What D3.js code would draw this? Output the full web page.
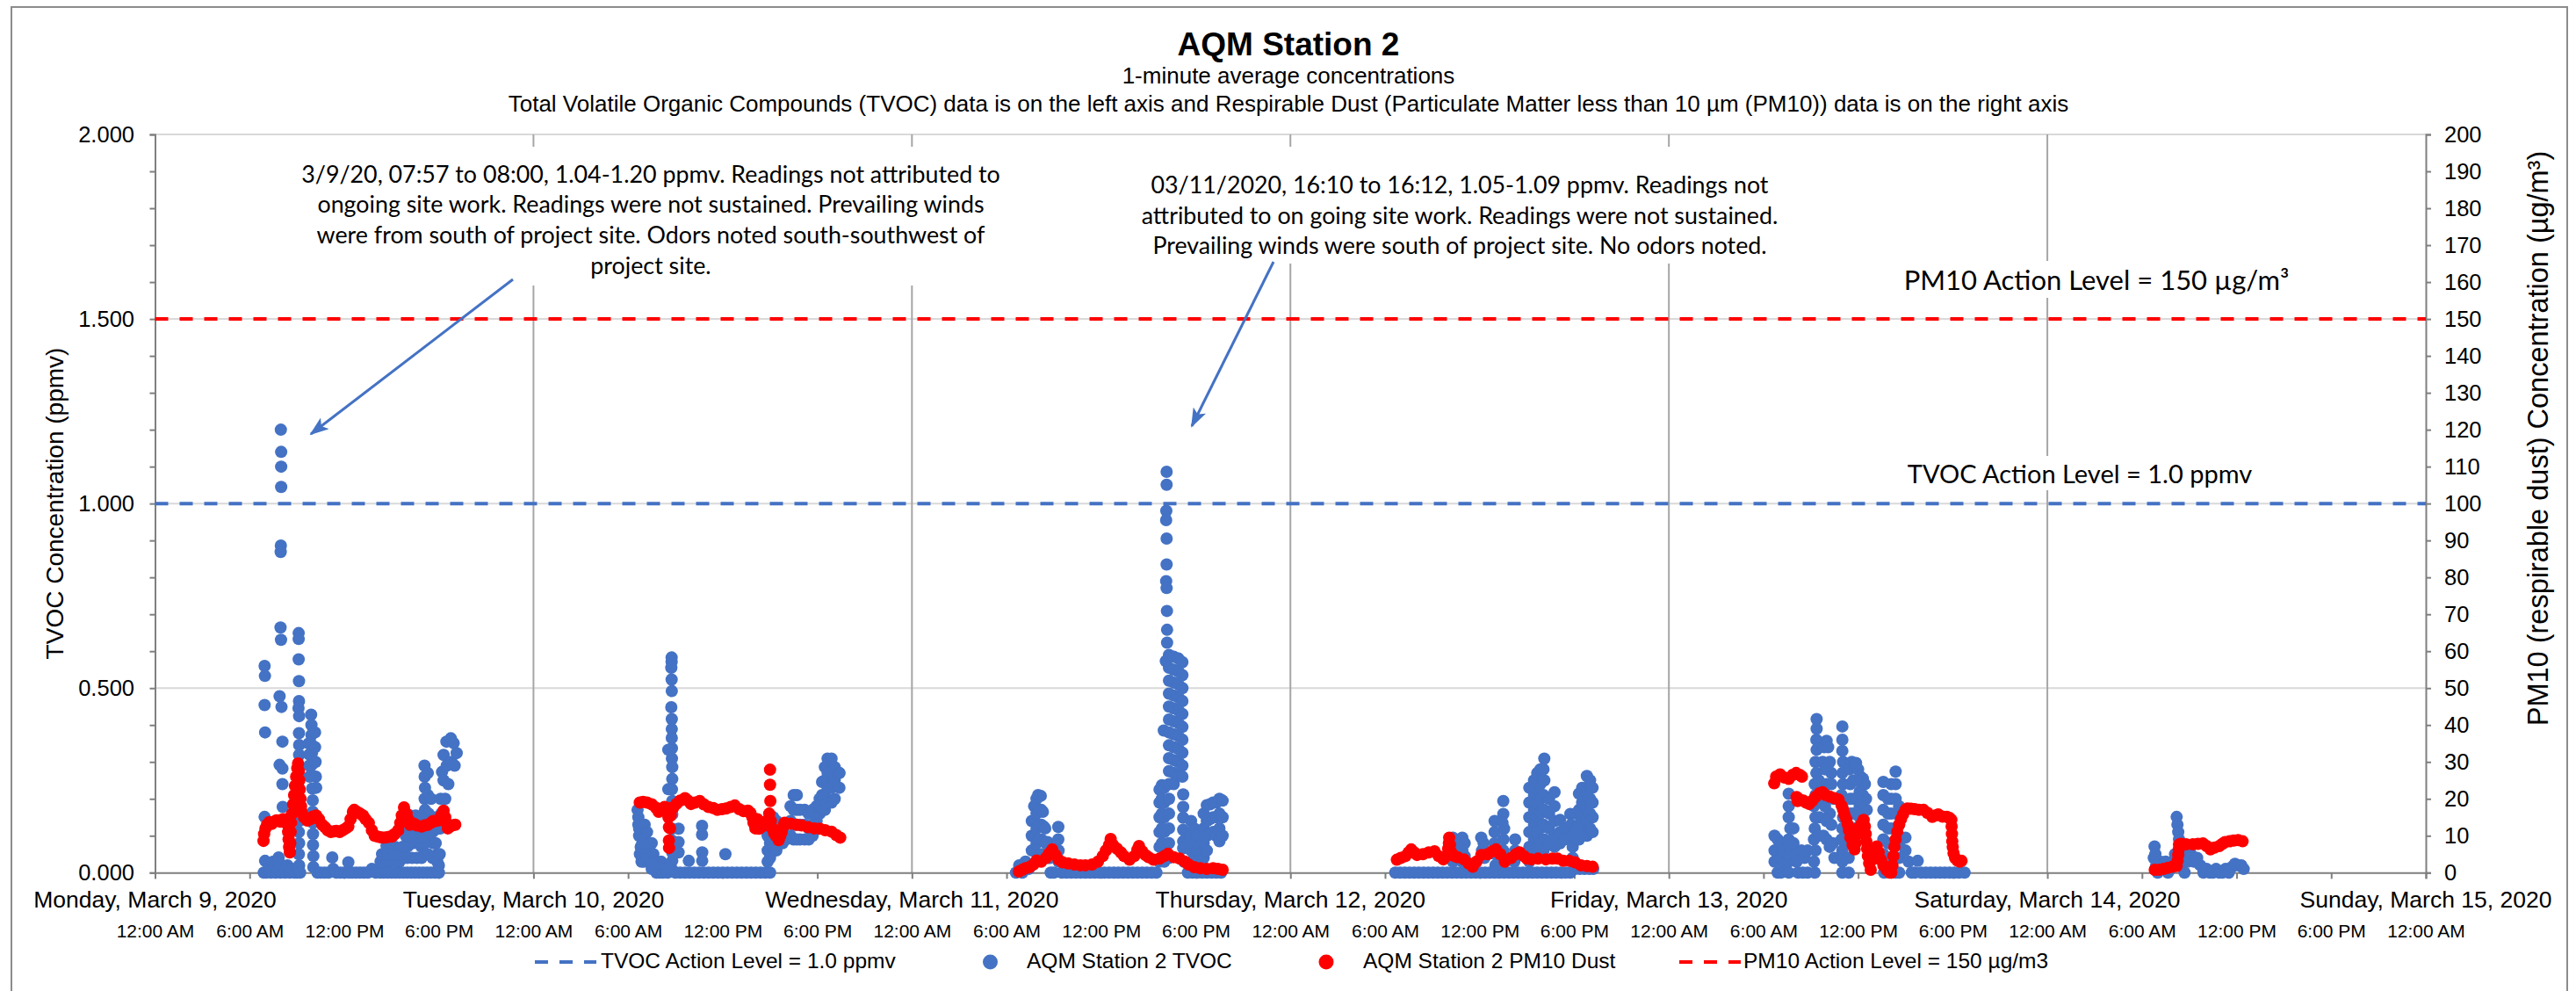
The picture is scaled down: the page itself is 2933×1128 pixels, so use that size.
<!DOCTYPE html>
<html>
<head>
<meta charset="utf-8">
<script src="https://cdn.jsdelivr.net/npm/d3@7"></script>
<style>
body { margin: 0; background: #fff; }
text { font-family: "Liberation Sans", Arial, sans-serif; fill: #000; }
.note { font-family: Lato, "Open Sans", sans-serif; }
</style>
</head>
<body>
<svg id="chart" width="2933" height="1128"></svg>
<script>
// ---- data (hour of day, value) ----
var startDay = new Date(2020, 2, 9);
var endDay = new Date(2020, 2, 15);

var tvocLevel = 1.0;   // ppmv, left axis
var pm10Level = 150;   // ug/m3, right axis

var titleLines = ["AQM Station 2", "1-minute average concentrations",
  "Total Volatile Organic Compounds (TVOC) data is on the left axis and Respirable Dust (Particulate Matter less than 10 \u00b5m (PM10)) data is on the right axis"];

var legendLabels = ["TVOC Action Level = 1.0 ppmv", "AQM Station 2 TVOC", "AQM Station 2 PM10 Dust", "PM10 Action Level = 150 \u00b5g/m3"];

var note1 = ["3/9/20, 07:57 to 08:00, 1.04-1.20 ppmv. Readings not attributed to",
  "ongoing site work. Readings were not sustained. Prevailing winds",
  "were from south of project site. Odors noted south-southwest of",
  "project site."];
var note2 = ["03/11/2020, 16:10 to 16:12, 1.05-1.09 ppmv. Readings not",
  "attributed to on going site work. Readings were not sustained.",
  "Prevailing winds were south of project site. No odors noted."];

// TVOC (ppmv)
var tvocMar09 = [[6.95,.56],[6.97,.533],[6.95,.454],[6.98,.38],[6.95,.151],[6.98,.032],[6.9,0],[7.05,0],[7.2,.01],[7.35,0],[7.5,.03],[7.65,0],
  [7.98,1.2],[8.0,1.14],[8.0,1.1],[8.0,1.045],[7.98,.886],[7.97,.869],[7.96,.664],[7.99,.631],[7.9,.478],[8.02,.449],[8.08,.355],[7.9,.292],[8.08,.282],[8.08,.24],[8.1,.178],[8.05,.14],[7.84,.041],[7.84,.028],[7.95,0],[8.1,.01],[8.25,0],[8.4,.02],[8.55,0],[8.7,.01],[8.85,0],[9.0,0],
  [9.11,.649],[9.11,.633],[9.11,.578],[9.13,.519],[9.13,.465],[9.1,.446],[9.14,.424],[9.13,.378],[9.14,.346],[9.14,.319],[9.12,.29],[9.14,.26],[9.12,.23],[9.14,.2],[9.12,.17],[9.14,.14],[9.12,.11],[9.14,.08],[9.12,.05],[9.14,.02],[9.2,0],
  [9.9,.428],[9.92,.4],[9.92,.373],[9.88,.35],[9.95,.324],[9.92,.291],[9.95,.264],[9.97,.228],[10.0,.196],[10.0,.165],[10.02,.135],[10.02,.105],[10.02,.075],[10.04,.045],[10.04,.015],[9.75,.35],[9.78,.32],[9.78,.29],[9.8,.26],[10.15,.38],[10.15,.34],[10.18,.3],[10.2,.26],[10.22,.23],[10.3,0],
  [10.5,0],[10.75,0],[11.0,0],[11.24,.041],[11.3,.01],[11.5,0],[11.75,0],[12.0,0],[12.26,.028],[12.3,0],[12.5,0],[12.75,0],[13.0,0],[13.25,0],[13.5,0],[13.75,.01],[14.0,0],
  [14.3,0],[14.3,.03],[14.5,.02],[14.68,.073],[14.7,.04],[14.9,.06],[14.9,.03],[15.1,.07],[15.1,.04],[15.23,.07],[15.3,.03],[15.5,.06],[15.5,.03],[15.7,.07],[15.79,.04],[15.9,.1],[16.0,.13],[16.0,.07],[16.16,.155],[16.2,.1],[16.35,.12],[16.35,.08],[16.53,.155],[16.55,.11],[16.7,.14],[16.7,.09],[16.81,.12],[16.9,.07],
  [17.09,.29],[17.1,.26],[17.12,.23],[17.1,.2],[17.12,.17],[17.14,.14],[17.1,.11],[17.12,.08],[17.3,.27],[17.3,.21],[17.35,.16],[17.37,.1],[17.5,.2],[17.5,.13],[17.65,.15],[17.65,.08],[17.8,.12],[17.92,.119],[17.92,.05],
  [14.5,0],[14.75,0],[15,0],[15.25,0],[15.5,0],[15.75,0],[16,0],[16.25,0],[16.5,0],[16.75,0],[17,0],[17.25,0],[17.5,0],[17.75,0],[18,0],
  [16.0,.04],[16.3,.04],[16.6,.04],[16.9,.04],[17.3,.05],[17.6,.04],
  [14.4,.05],[14.6,.05],[14.8,.05],[15.0,.05],[15.2,.05],[15.4,.05],[15.6,.05],[15.8,.07],[16.1,.1],[16.4,.15],[16.6,.13],[16.8,.15],[17.0,.1],[17.2,.12],[17.4,.13],[17.6,.11],[17.8,.08],[17.9,.03],[18.0,.02],
  [18.11,.2],[18.15,.16],[18.2,.273],[18.3,.319],[18.3,.25],[18.4,.2],[18.48,.355],[18.5,.29],[18.6,.24],[18.76,.364],[18.8,.3],[18.94,.351],[19.0,.29],[19.13,.324],[18.11,.12],[18.05,.05]];

var tvocMar10 = [[6.6,.17],[6.65,.13],[6.7,.1],[6.8,.07],[6.9,.08],[7.05,.1],[7.2,.07],[7.35,.06],[7.5,.08],[7.6,.05],[7.72,.03],[7.8,0],[7.9,.02],[8.0,0],[8.09,.03],[8.2,0],[8.35,.01],[8.5,0],
  [6.65,.15],[6.7,.12],[6.75,.05],[6.85,.03],[6.95,.05],[7.0,.03],[7.1,.05],[7.25,.04],[7.4,.03],[7.5,.01],[7.6,.02],[7.05,.13],[7.2,.11],
  [8.76,.583],[8.76,.571],[8.74,.555],[8.76,.523],[8.77,.492],[8.74,.448],[8.77,.416],[8.77,.389],[8.77,.365],[8.78,.337],[8.78,.309],[8.8,.286],[8.8,.254],[8.78,.226],[8.8,.194],[8.8,.158],[8.78,.119],[8.78,.087],[8.8,.055],[8.8,.032],[8.8,.008],[8.55,.333],[8.55,.226],
  [9.2,.119],[9.2,.083],[9.2,.055],[9.85,.032],[10.69,.127],[10.69,.103],[10.7,.055],[10.7,.032],[12.17,.05],
  [9.0,0],[9.3,0],[9.6,0],[9.9,0],[10.2,0],[10.5,0],[10.8,0],[11.1,0],[11.4,0],[11.7,0],[12.0,0],[12.3,0],[12.6,0],[12.9,0],[13.2,0],[13.5,0],[13.8,0],[14.1,0],[14.4,0],[14.7,0],[15.0,0],
  [14.85,.14],[14.85,.1],[14.85,.06],[14.85,.03],[15.0,.12],[15.0,.08],[15.0,.04],[15.2,.15],[15.2,.11],[15.2,.07],[15.4,.14],[15.4,.1],[15.4,.06],[15.6,.13],[15.6,.09],[15.8,.12],[15.8,.08],[16.0,.13],[16.0,.09],
  [16.3,.18],[16.3,.14],[16.3,.1],[16.5,.21],[16.5,.17],[16.5,.13],[16.5,.09],[16.7,.21],[16.7,.17],[16.7,.13],[16.7,.09],[16.9,.17],[16.9,.13],[16.9,.09],[17.2,.17],[17.2,.13],[17.2,.09],[17.45,.16],[17.45,.12],[17.45,.09],[17.7,.17],[17.7,.13],[17.7,.1],
  [17.95,.18],[17.95,.14],[18.15,.2],[18.15,.16],[18.3,.246],[18.3,.21],[18.3,.17],[18.48,.286],[18.48,.25],[18.48,.21],[18.48,.17],[18.65,.309],[18.65,.27],[18.65,.23],[18.65,.19],[18.9,.309],[18.9,.27],[18.9,.23],[18.9,.19],[19.1,.286],[19.1,.25],[19.1,.2],[19.41,.27],[19.4,.23]];

var tvocMar11 = [[6.6,0],[6.8,.02],[7.0,0],[7.2,.03],[7.4,.01],
  [7.6,.14],[7.6,.1],[7.6,.06],[7.6,.02],[7.75,.18],[7.75,.14],[7.75,.1],[7.75,.06],[7.9,.2],[7.9,.16],[7.9,.12],[7.9,.08],[8.0,.21],[8.05,.17],[8.05,.13],[8.05,.09],[8.17,.208],[8.2,.17],[8.2,.13],[8.2,.09],[8.2,.05],[8.3,.165],[8.35,.125],[8.35,.085],[8.45,.12],[8.5,.08],[8.5,.04],[8.6,.083],[8.65,.04],[8.75,.04],[8.8,0],
  [9.28,.124],[9.28,.09],[9.3,.06],[9.3,.03],
  [9.0,0],[9.5,0],[9.8,0],[10.1,0],[10.4,0],[10.7,0],[11.0,0],[11.3,0],[11.6,0],[11.9,0],[12.2,0],[12.5,0],[12.8,0],[13.1,0],[13.4,0],[13.7,0],[14.0,0],[14.3,0],[14.6,0],[14.9,0],[15.2,0],[15.5,0],
  [15.7,.225],[15.7,.19],[15.7,.15],[15.7,.11],[15.7,.07],[15.7,.03],[15.85,.237],[15.85,.2],[15.85,.16],[15.85,.12],[15.85,.08],[15.85,.04],[16.0,.23],[16.0,.19],[16.0,.15],[16.0,.11],[16.0,.07],[16.0,.03],[15.97,.385],
  [16.15,1.086],[16.15,1.051],[16.13,.98],[16.12,.955],[16.15,.905],[16.15,.835],[16.12,.79],[16.15,.771],[16.17,.709],[16.18,.658],[16.18,.623],[16.1,.573],
  [16.3,.59],[16.3,.555],[16.3,.52],[16.3,.485],[16.3,.45],[16.3,.415],[16.3,.38],[16.3,.345],[16.3,.31],[16.3,.275],[16.3,.24],
  [16.6,.585],[16.6,.55],[16.6,.515],[16.6,.48],[16.6,.445],[16.6,.41],[16.6,.375],[16.6,.34],[16.6,.305],[16.6,.27],[16.6,.24],
  [16.9,.58],[16.9,.545],[16.9,.51],[16.9,.475],[16.9,.44],[16.9,.405],[16.9,.37],[16.9,.335],[16.9,.3],[16.9,.265],
  [17.15,.57],[17.15,.535],[17.15,.5],[17.15,.465],[17.15,.43],[17.15,.395],[17.15,.36],[17.15,.325],[17.15,.29],[17.15,.26],
  [17.2,.212],[17.2,.178],[17.2,.149],[17.2,.116],[17.2,.085],[17.2,.066],[17.25,.03],[16.3,.2],[16.3,.16],[16.3,.12],[16.3,.08],[16.3,.04],
  [17.7,.14],[17.7,.1],[17.7,.06],[17.7,.02],[17.9,.12],[17.9,.08],[17.9,.04],[18.1,.1],[18.1,.06],[18.1,.02],[18.25,.05],
  [18.5,.16],[18.5,.12],[18.5,.08],[18.5,.04],[18.7,.183],[18.7,.14],[18.7,.1],[18.7,.06],[18.9,.185],[18.9,.145],[18.9,.105],[19.1,.19],[19.1,.15],[19.1,.11],[19.3,.19],[19.3,.15],[19.3,.1],[19.5,.2],[19.5,.16],[19.5,.12],[19.5,.085],[19.7,.195],[19.7,.15],[19.7,.1],
  [17.5,0],[17.8,0],[18.1,0],[18.4,0],[18.7,0],[19.0,0],[19.3,0],[19.6,0]];

var tvocMar12 = [[6.65,0],[6.95,0],[7.25,0],[7.55,0],[7.85,0],[8.15,0],[8.45,0],[8.75,0],[9.05,0],[9.35,0],[9.65,0],[9.95,0],[10.25,0],[10.55,0],[10.85,0],[11.15,0],[11.45,0],[11.75,0],[12.05,0],[12.35,0],[12.65,0],[12.95,0],[13.25,0],[13.55,0],[13.85,0],[14.15,0],[14.45,0],[14.75,0],[15.05,0],[15.35,0],[15.65,0],[15.95,0],[16.25,0],[16.55,0],[16.85,0],[17.15,0],[17.45,0],[17.75,0],[18.05,.01],[18.35,.01],[18.65,.01],[18.95,.01],[19.2,.01],
  [10.2,.06],[10.3,.095],[10.3,.06],[10.3,.03],[10.5,.07],[10.5,.035],[10.75,.06],[10.9,.095],[10.9,.06],[10.9,.03],[11.05,.08],[11.05,.045],
  [12.1,.095],[12.15,.06],[12.25,.08],[12.3,.04],
  [12.95,.14],[12.95,.11],[12.95,.08],[13.0,.05],[13.0,.02],
  [13.5,.194],[13.5,.159],[13.45,.135],[13.55,.119],[13.5,.09],[13.5,.06],[13.5,.03],
  [14.25,.09],[14.25,.06],[14.2,.03],
  [15.15,.23],[15.15,.19],[15.15,.15],[15.15,.11],[15.15,.07],[15.15,.03],
  [15.45,.25],[15.45,.21],[15.45,.17],[15.45,.13],[15.45,.09],[15.45,.05],
  [15.65,.27],[15.65,.23],[15.65,.19],[15.65,.15],[15.65,.11],[15.65,.07],
  [15.85,.28],[15.85,.24],[15.85,.2],[15.85,.16],[15.85,.12],[15.85,.08],
  [16.1,.309],[16.05,.28],[16.1,.25],[16.05,.21],[16.1,.17],[16.05,.13],[16.1,.09],[16.05,.06],
  [16.4,.2],[16.4,.16],[16.4,.12],[16.4,.08],
  [16.75,.218],[16.75,.18],[16.75,.14],[16.75,.1],[16.75,.07],
  [17.1,.143],[17.1,.11],[17.1,.08],[17.4,.12],[17.4,.09],
  [17.75,.159],[17.8,.13],[17.85,.1],[17.9,.07],[17.9,.04],
  [18.1,.16],[18.1,.12],[18.1,.09],[18.3,.214],[18.3,.17],[18.3,.13],[18.3,.09],[18.5,.23],[18.5,.19],[18.5,.15],[18.5,.11],[18.8,.262],[18.8,.22],[18.8,.18],[18.8,.14],[18.8,.1],[19.0,.25],[19.0,.2],[19.0,.16],[19.0,.12],[19.16,.23],[19.16,.19],[19.16,.15],[19.16,.11]];

var tvocMar13 = [[6.7,.1],[6.7,.06],[6.7,.03],[6.9,.09],[6.9,.05],[6.9,0],[7.1,.08],[7.1,.04],[7.1,0],[7.3,.06],[7.3,.02],
  [7.6,.214],[7.6,.18],[7.6,.15],[7.7,.12],[7.6,.09],[7.7,.06],[7.6,.03],[7.6,0],[7.9,.12],[7.9,.08],[8.0,.05],[8.1,.03],[8.2,0],
  [8.4,.06],[8.6,.04],[8.8,.06],[8.5,0],[8.8,0],
  [9.37,.416],[9.37,.39],[9.35,.36],[9.37,.333],[9.3,.3],[9.35,.27],[9.25,.24],[9.3,.21],[9.2,.18],[9.3,.15],[9.25,.12],[9.2,.09],[9.3,.06],[9.2,.03],[9.25,0],[9.5,.25],[9.5,.2],[9.55,.15],[9.5,.1],
  [9.75,.3],[9.85,.34],[10.0,.357],[10.1,.34],[10.2,.3],[10.3,.27],[9.9,.28],[10.0,.24],[10.1,.2],[10.2,.16],[10.3,.24],[10.45,.2],[9.8,.22],[9.9,.18],[10.0,.14],[10.3,.13],[9.8,.1],[10.0,.09],[10.2,.07],[10.4,.08],[10.5,.04],
  [11.0,.396],[11.0,.36],[11.0,.33],[11.05,.3],[11.0,.27],[11.05,.24],[10.95,.21],[11.0,.18],[11.05,.15],[11.0,.12],[10.95,.09],[11.0,.06],[11.0,.03],[11.0,0],
  [11.45,.28],[11.6,.3],[11.75,.29],[11.87,.297],[12.0,.28],[12.15,.26],[12.3,.255],[12.43,.24],[12.5,.2],[12.55,.17],[11.5,.24],[11.7,.25],[11.9,.25],[12.1,.22],[12.3,.21],[11.5,.2],[11.7,.2],[11.9,.2],[12.1,.18],[12.3,.17],[11.5,.16],[11.7,.16],[11.9,.16],[12.1,.15],[12.3,.14],[11.4,.12],[11.6,.12],[11.8,.12],[12.0,.11],[11.4,.08],[11.4,.04],[11.4,0],
  [13.6,.246],[13.6,.21],[13.6,.17],[13.6,.13],[13.6,.09],[13.6,.05],[13.65,0],[13.9,.2],[13.9,.16],[13.9,.12],[13.9,.08],[13.9,.04],[14.1,.24],[14.1,.2],[14.1,.16],[14.1,.12],[14.1,.08],[14.1,.04],[14.1,0],[14.38,.274],[14.38,.24],[14.38,.2],[14.4,.16],[14.4,.12],[14.4,.08],[14.4,.04],[14.4,0],[14.6,.18],[14.6,.13],[14.6,.08],[14.6,.04],[14.6,0],
  [15.0,.095],[15.0,.06],[15.2,.03],
  [15.4,0],[15.6,0],[15.78,.032],[16.0,0],[16.3,0],[16.6,0],[16.9,0],[17.2,0],[17.5,0],[17.8,0],[18.1,0],[18.4,0],[18.75,0]];

var tvocMar14 = [[6.75,.04],[6.8,.071],[6.85,.05],[6.9,.02],[7.0,0],[7.15,.03],[7.3,.02],[7.5,.03],[7.65,0],[7.8,.01],[7.95,.03],[8.1,.05],[8.2,.151],[8.25,.13],[8.3,.11],[8.35,.09],[8.4,.07],[8.5,.05],[8.6,.03],[8.7,0],[8.9,.03],[9.1,.05],[9.3,.03],[9.5,.04],[9.7,.02],[9.9,0],[10.1,.01],[10.3,0],[10.5,0],[10.7,.01],[10.9,0],[11.1,0],[11.3,.01],[11.5,0],[11.7,.015],[11.9,.024],[12.1,.02],[12.3,.02],[12.45,.01]];

// PM10 (ug/m3)
var pm10Mar09 = [[6.88,8.6],[6.92,10.5],[7.0,12],[7.1,13],[7.25,13.7],[7.4,13.2],[7.55,13.8],[7.7,14.2],[7.81,14.1],[7.95,13.8],[8.1,14.5],[8.3,14.5],[8.4,13],[8.44,11],[8.47,9],[8.5,7],[8.55,5.5],[8.58,8],[8.6,11],[8.63,13.5],[8.7,16],[8.76,18.5],[8.82,21],[8.88,23.5],[8.95,26],[9.02,28.3],[9.07,29.6],[9.12,27.5],[9.15,25],[9.18,22.5],[9.22,20],[9.26,18],[9.3,16.5],[9.45,15],[9.66,14.1],[9.85,14.5],[10.0,15.2],[10.22,15.5],[10.4,14.5],[10.6,13],[10.78,12.3],[10.95,11.5],[11.15,11],[11.35,11.2],[11.5,11.3],[11.71,11],[11.9,11.5],[12.1,12],[12.26,12.5],[12.4,14.5],[12.55,16.5],[12.63,17],[12.8,16.5],[13.0,16],[13.19,15.5],[13.35,14.5],[13.56,13.5],[13.75,11.5],[13.93,10],[14.1,9.8],[14.3,9.6],[14.5,9.5],[14.7,9.6],[14.9,9.8],[15.05,9.8],[15.2,10.5],[15.42,11.5],[15.55,13.5],[15.65,15.5],[15.79,17.7],[15.95,16],[16.05,14.5],[16.16,13],[16.4,13.3],[16.6,12.8],[16.9,12.5],[17.1,12.8],[17.3,13],[17.5,13.5],[17.65,14],[17.8,14],[18.02,14.2],[18.15,15.5],[18.3,16.8],[18.4,15],[18.48,13.5],[18.57,12],[18.7,12.5],[18.85,12.8],[19.04,13]];

var pm10Mar10 = [[6.74,19],[6.95,19.2],[7.2,19],[7.5,18.5],[7.76,17.6],[7.94,16.5],[8.1,17],[8.31,17.8],[8.5,17.5],[8.56,15],[8.59,12.3],[8.59,8.7],[8.6,6.7],[8.66,12],[8.7,15.5],[8.85,17.5],[9.06,18.6],[9.3,19.5],[9.61,20.2],[9.8,19.5],[9.99,18.6],[10.25,19],[10.54,19.4],[10.8,18.5],[11.1,17.8],[11.4,17.5],[11.66,17],[11.95,17.2],[12.21,17.4],[12.5,17.8],[12.77,18.2],[13.05,17.2],[13.33,16.65],[13.6,16.8],[13.75,16.2],[13.88,15],[13.95,13.5],[14.07,12],[14.2,14.5],[14.3,11.9],[14.4,12.5],[14.5,12.5],[14.63,13.5],[14.8,14],[14.9,12.8],[14.95,16],[15.0,27.9],[15.0,23.8],[15.02,19.4],[15.05,14],[15.15,12],[15.25,10.8],[15.37,10],[15.55,8.8],[15.65,10],[15.74,11],[15.85,12.5],[15.92,13.5],[16.3,13.3],[16.67,13],[17.0,12.8],[17.41,12.3],[17.8,12],[18.15,11.9],[18.5,11.5],[18.9,11.1],[19.2,10.2],[19.45,9.5]];

var pm10Mar11 = [[6.78,.3],[7.0,.8],[7.2,1.2],[7.45,1.5],[7.7,2.2],[7.9,3.3],[8.2,3.0],[8.5,4.0],[8.7,5.2],[8.9,6.3],[9.1,4.8],[9.3,3.5],[9.56,2.8],[9.9,2.5],[10.3,2.2],[10.68,2.0],[11.0,2.0],[11.42,2.2],[11.8,3.0],[12.1,4.5],[12.3,6],[12.5,7.5],[12.6,9.1],[12.75,7.5],[13.0,6.5],[13.25,5.5],[13.45,4.5],[13.8,3.5],[14.1,4.5],[14.3,6.2],[14.4,7.2],[14.6,5.8],[14.8,4.8],[15.0,4.2],[15.32,3.5],[15.7,3.8],[16.0,4.5],[16.24,5.1],[16.6,4.2],[16.98,3.8],[17.3,3.0],[17.54,2.2],[17.9,1.5],[18.29,1.2],[18.7,1.0],[19.1,1.2],[19.4,1.0],[19.7,.8]];

var pm10Mar12 = [[6.75,3.5],[7.0,4.0],[7.3,4.5],[7.5,5.5],[7.66,6.3],[7.85,5.5],[8.03,4.8],[8.4,5.0],[8.77,5.5],[9.14,5.8],[9.4,4.5],[9.7,3.6],[9.9,4.5],[10.0,6.5],[10.05,8],[10.07,9.5],[10.12,7.5],[10.2,5.5],[10.4,4.5],[10.6,4.2],[11.0,3.6],[11.3,2.5],[11.56,1.6],[11.8,3.0],[12.11,4.8],[12.5,5.0],[12.8,5.8],[13.04,6.3],[13.3,5.0],[13.6,3.0],[14.0,4.0],[14.3,5.0],[14.53,5.5],[14.8,4.5],[15.0,3.8],[15.27,3.6],[15.7,3.8],[16.2,3.6],[16.6,3.8],[16.94,3.8],[17.3,3.2],[17.68,3.2],[18.05,2.8],[18.42,2.0],[18.8,1.8],[19.16,1.6]];

var pm10Mar13 = [[6.68,24.2],[6.8,26],[7.05,26.6],[7.3,25.8],[7.61,25.4],[7.85,26.5],[8.07,27],[8.3,26.5],[8.44,26],
  [8.1,20.5],[8.16,19.4],[8.3,19.8],[8.53,19.5],[8.7,19],[8.9,18.6],[9.1,19.5],[9.3,20.5],[9.55,21.5],[9.74,21.8],[9.95,21.0],[10.2,20.6],[10.5,20.2],[10.76,19.8],[10.95,18.2],[11.05,17],[11.13,15.8],[11.25,14.5],[11.35,13],[11.42,11.5],[11.51,9.5],[11.65,7.5],[11.78,6.3],[11.85,8],[11.95,10.5],[12.1,12.5],[12.25,13.5],[12.35,14.3],[12.43,12.5],[12.48,10.5],[12.52,8.5],[12.57,6.5],[12.62,4.5],[12.7,2.5],[12.8,.8],[12.9,3.5],[12.99,5.5],[13.18,7.1],[13.3,5.5],[13.45,3.5],[13.6,2],[13.8,.8],[14.0,0],[14.1,0],[14.18,2],[14.24,4.5],[14.3,7],[14.38,9],[14.48,11.1],[14.6,13],[14.72,14.5],[14.85,15.8],[15.0,17],[15.13,17.4],[15.35,17.3],[15.59,17.2],[15.85,17.0],[16.15,17.0],[16.4,16.2],[16.7,15.1],[16.9,15.5],[17.08,15.8],[17.35,15.2],[17.63,15.1],[17.8,14.8],[17.91,14.3],[17.93,12.5],[17.95,10.5],[17.97,8.5],[18.0,7.0],[18.05,5.3],[18.15,4],[18.3,3.3],[18.45,3.0],[18.56,3.2]];

var pm10Mar14 = [[6.81,.8],[7.1,.8],[7.37,1.0],[7.65,1.3],[7.92,1.6],[8.2,1.8],[8.26,3.2],[8.3,4.8],[8.33,6.3],[8.35,7.6],[8.48,7.8],[8.8,7.7],[9.23,7.7],[9.55,7.8],[9.87,7.9],[10.1,7.2],[10.34,6.3],[10.6,6.8],[10.9,7.2],[11.1,7.8],[11.27,8.3],[11.55,8.5],[11.82,8.7],[12.1,8.8],[12.38,8.5]];

var tvocDays = [tvocMar09, tvocMar10, tvocMar11, tvocMar12, tvocMar13, tvocMar14];
var pm10Days = [pm10Mar09, pm10Mar10, pm10Mar11, pm10Mar12, pm10Mar13, pm10Mar14];

// ---- helpers ----
var toPoints = function(days) {
  var out = [];
  days.forEach(function(arr, i) {
    var base = d3.timeDay.offset(startDay, i).getTime();
    arr.forEach(function(p) {
      out.push({t: new Date(base + p[0] * 3600000), v: p[1]});
    });
  });
  return out;
};

var BLUE = "#4472C4", RED = "#FF0000";
var DOT = 7;
var svg = d3.select("#chart");
var plotL = 176.5, plotR = 2762, plotT = 153, plotB = 993.3;

var x = d3.scaleTime().domain([startDay, endDay]).range([plotL, plotR]);
var yL = d3.scaleLinear().domain([0, 2]).range([plotB, plotT]);
var yR = d3.scaleLinear().domain([0, 200]).range([plotB, plotT]);

// outer chart border
svg.append("rect").attr("x", 13).attr("y", 8).attr("width", 2910).attr("height", 1140)
  .attr("fill", "none").attr("stroke", "#8c8c8c").attr("stroke-width", 2);

// titles
svg.append("text").attr("x", 1467).attr("y", 63).attr("text-anchor", "middle")
  .style("font-size", "37px").style("font-weight", "bold").text(titleLines[0]);
svg.append("text").attr("x", 1467).attr("y", 95).attr("text-anchor", "middle")
  .style("font-size", "26px").text(titleLines[1]);
svg.append("text").attr("x", 1467).attr("y", 127).attr("text-anchor", "middle")
  .style("font-size", "26px").text(titleLines[2]);

// horizontal gridlines
svg.append("g").selectAll("line").data([0.5, 1, 1.5, 2]).enter().append("line")
  .attr("x1", plotL).attr("x2", plotR)
  .attr("y1", function(d) { return yL(d); }).attr("y2", function(d) { return yL(d); })
  .attr("stroke", "#d9d9d9").attr("stroke-width", 2);

// vertical day lines
var days = d3.timeDay.range(startDay, d3.timeDay.offset(endDay, 1));
svg.append("g").selectAll("line").data(days.slice(1, 6)).enter().append("line")
  .attr("x1", function(d) { return x(d); }).attr("x2", function(d) { return x(d); })
  .attr("y1", plotT).attr("y2", plotB)
  .attr("stroke", "#a6a6a6").attr("stroke-width", 2);

// axes
var fmtL = d3.format(".3f");
var axL = svg.append("g").attr("transform", "translate(" + plotL + ",0)")
  .call(d3.axisLeft(yL).tickValues(d3.range(0, 21).map(function(i) { return i / 10; }))
    .tickSize(6).tickFormat(function(d) { return Math.round(d * 10) % 5 === 0 ? fmtL(d) : ""; }));
var axR = svg.append("g").attr("transform", "translate(" + plotR + ",0)")
  .call(d3.axisRight(yR).tickValues(d3.range(0, 201, 10)).tickSize(6));
var axB = svg.append("g").attr("transform", "translate(0," + plotB + ")")
  .call(d3.axisBottom(x).ticks(d3.timeHour.every(6)).tickSize(7)
    .tickFormat(d3.timeFormat("%-I:%M %p")));

[axL, axR, axB].forEach(function(ax) {
  ax.select(".domain").attr("stroke", "#7f7f7f").attr("stroke-width", 2);
  ax.selectAll(".tick line").attr("stroke", "#7f7f7f").attr("stroke-width", 2);
  ax.selectAll("text").attr("fill", "#000").style("font-family", "'Liberation Sans', Arial, sans-serif");
});
axL.selectAll("text").attr("x", -23.5).style("font-size", "25.5px");
axR.selectAll("text").attr("x", 21).style("font-size", "25.5px");
axB.selectAll("text").attr("y", 73.4).attr("dy", null).style("font-size", "21px");

// day labels
var fmtDay = d3.timeFormat("%A, %B %-d, %Y");
svg.append("g").selectAll("text").data(days).enter().append("text")
  .attr("x", function(d) { return x(d); }).attr("y", 1033)
  .attr("text-anchor", "middle").style("font-size", "26.5px")
  .text(function(d) { return fmtDay(d); });

// axis titles
svg.append("text").attr("transform", "translate(72,573) rotate(-90)")
  .attr("text-anchor", "middle").style("font-size", "28px").text("TVOC Concentration (ppmv)");
svg.append("text").attr("transform", "translate(2901,499) rotate(-90)")
  .attr("text-anchor", "middle").style("font-size", "32.5px")
  .text("PM10 (respirable dust) Concentration (\u00b5g/m\u00b3)");

// action level lines
svg.append("line").attr("x1", plotL).attr("x2", plotR)
  .attr("y1", yL(tvocLevel)).attr("y2", yL(tvocLevel))
  .attr("stroke", BLUE).attr("stroke-width", 4).attr("stroke-dasharray", "15,13");

// data dots
svg.append("g").selectAll("circle").data(toPoints(tvocDays)).enter().append("circle")
  .attr("cx", function(d) { return x(d.t); }).attr("cy", function(d) { return yL(d.v); })
  .attr("r", DOT).attr("fill", BLUE);
svg.append("g").selectAll("circle").data(toPoints(pm10Days)).enter().append("circle")
  .attr("cx", function(d) { return x(d.t); }).attr("cy", function(d) { return yR(d.v); })
  .attr("r", DOT).attr("fill", RED);

svg.append("line").attr("x1", plotL).attr("x2", plotR)
  .attr("y1", yR(pm10Level)).attr("y2", yR(pm10Level))
  .attr("stroke", RED).attr("stroke-width", 4).attr("stroke-dasharray", "15,13");

// notes with white boxes
var notes = [
  {lines: note1, cx: 741, y0: 207.5, box: [318, 167, 847, 158]},
  {lines: note2, cx: 1662, y0: 220, box: [1290, 167, 745, 133]}
];
notes.forEach(function(n) {
  svg.append("rect").attr("x", n.box[0]).attr("y", n.box[1]).attr("width", n.box[2]).attr("height", n.box[3]).attr("fill", "#fff");
  svg.append("text").attr("class", "note").attr("text-anchor", "middle").style("font-size", "26.8px")
    .selectAll("tspan").data(n.lines).enter().append("tspan")
    .attr("x", n.cx).attr("y", function(d, i) { return n.y0 + i * 34.7; })
    .text(function(d) { return d; });
});

var levelNotes = [
  {text: "PM10 Action Level = 150 \u00b5g/m\u00b3", cx: 2387, y: 330, size: 31},
  {text: "TVOC Action Level = 1.0 ppmv", cx: 2368, y: 550, size: 29}
];
levelNotes.forEach(function(n) {
  var t = svg.append("text").attr("class", "note").attr("x", n.cx).attr("y", n.y)
    .attr("text-anchor", "middle").style("font-size", n.size + "px").text(n.text);
  var bb = t.node().getBBox();
  svg.insert("rect", function() { return t.node(); })
    .attr("x", bb.x - 6).attr("y", bb.y - 2).attr("width", bb.width + 12).attr("height", bb.height + 4)
    .attr("fill", "#fff");
});

// arrows
var defs = svg.append("defs");
defs.append("marker").attr("id", "arrowHead").attr("viewBox", "0 0 11 8")
  .attr("refX", 10).attr("refY", 4).attr("markerWidth", 22).attr("markerHeight", 16)
  .attr("markerUnits", "userSpaceOnUse").attr("orient", "auto")
  .append("path").attr("d", "M0,0 L11,4 L0,8 L2.5,4 Z").attr("fill", BLUE);
var arrows = [[584, 318, 354, 494], [1450, 298, 1357, 485]];
svg.append("g").selectAll("line").data(arrows).enter().append("line")
  .attr("x1", function(d) { return d[0]; }).attr("y1", function(d) { return d[1]; })
  .attr("x2", function(d) { return d[2]; }).attr("y2", function(d) { return d[3]; })
  .attr("stroke", BLUE).attr("stroke-width", 3).attr("marker-end", "url(#arrowHead)");

// legend
var legendX = [609, 1127.5, 1510, 1912];
var legendTextX = [684, 1169, 1552, 1985];
var legendKinds = [["line", BLUE], ["dot", BLUE], ["dot", RED], ["line", RED]];
var lg = svg.append("g");
legendLabels.forEach(function(label, i) {
  var k = legendKinds[i];
  if (k[0] === "line") {
    lg.append("line").attr("x1", legendX[i]).attr("x2", legendX[i] + 70).attr("y1", 1095).attr("y2", 1095)
      .attr("stroke", k[1]).attr("stroke-width", 4).attr("stroke-dasharray", "15,13");
  } else {
    lg.append("circle").attr("cx", legendX[i]).attr("cy", 1095).attr("r", 8.5).attr("fill", k[1]);
  }
  lg.append("text").attr("x", legendTextX[i]).attr("y", 1102).style("font-size", "24.5px").text(label);
});
</script>
</body>
</html>
